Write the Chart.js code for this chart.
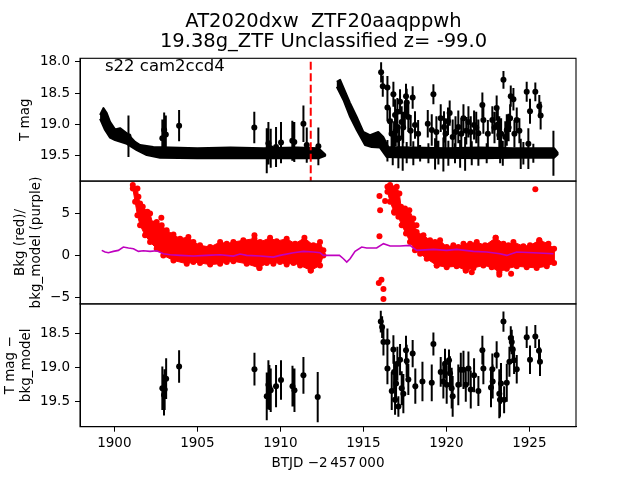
<!DOCTYPE html>
<html>
<head>
<meta charset="utf-8">
<script src="https://cdn.jsdelivr.net/npm/chart.js@4.4.0/dist/chart.umd.min.js"></script>
<style>
html,body{margin:0;padding:0;background:#fff;overflow:hidden}
#wrap{width:640px;height:480px}
</style>
</head>
<body>
<div id="wrap"><canvas id="c" width="640" height="480"></canvas></div>
<script>
// ---------------- texts ----------------
const titleLines = ['AT2020dxw  ZTF20aaqppwh', '19.38g_ZTF Unclassified z= -99.0'];
const sectorLabel = 's22 cam2ccd4';
const xTitle = 'BTJD \u22122\u2009457\u2009000';
const yTitleTop = ['T mag'];
const yTitleMid = ['Bkg (red)/', 'bkg_model (purple)'];
const yTitleBot = ['T mag \u2212', 'bkg_model'];

// ---------------- ticks ----------------
const xTicks = [1900, 1905, 1910, 1915, 1920, 1925];
const xTickLabels = ['1900', '1905', '1910', '1915', '1920', '1925'];
const magTicks = [18.0, 18.5, 19.0, 19.5];
const magTickLabels = ['18.0', '18.5', '19.0', '19.5'];
const bkgTicks = [5, 0, -5];
const bkgTickLabels = ['5', '0', '\u22125'];
const diffTicks = [18.5, 19.0, 19.5];
const diffTickLabels = ['18.5', '19.0', '19.5'];

// axis limits
const xRange = [1897.93, 1927.81];
const magRange = [17.946, 19.904];
const bkgRange = [-5.79, 8.87];
const diffRange = [18.07, 19.876];

// vertical marker (peak time)
const peakTime = 1911.83;
const peakSpan = [18.0, 19.9];

// ---------------- panel 1: T mag ----------------
// dense light-curve band (upper / lower edge), two orbits
const bandA_top = [[1899.14,18.85],[1899.34,18.74],[1899.54,18.82],[1899.74,18.96],[1900.04,19.08],[1900.34,19.06],[1900.75,19.14],[1901.25,19.28],[1901.55,19.33],[1902.35,19.36],[1903.36,19.37],[1905.0,19.38],[1907.0,19.37],[1909.0,19.38],[1911.0,19.37],[1912.3,19.38],[1912.7,19.48]];
const bandA_bottom = [[1899.14,18.91],[1899.44,19.09],[1899.74,19.21],[1900.04,19.25],[1900.75,19.31],[1901.35,19.41],[1901.95,19.49],[1902.75,19.53],[1905.0,19.54],[1908.0,19.54],[1911.0,19.54],[1912.3,19.54],[1912.7,19.50]];
const bandB_top = [[1913.4,18.32],[1913.6,18.29],[1914.2,18.66],[1914.6,18.88],[1915.0,19.12],[1915.4,19.17],[1915.9,19.12],[1916.2,19.20],[1916.5,19.36],[1918.0,19.37],[1920.0,19.38],[1922.0,19.37],[1924.0,19.38],[1926.5,19.38],[1926.7,19.45]];
const bandB_bottom = [[1913.4,18.40],[1913.8,18.61],[1914.2,18.88],[1914.6,19.09],[1915.1,19.33],[1915.5,19.36],[1916.0,19.37],[1916.4,19.52],[1918.0,19.53],[1920.0,19.53],[1922.0,19.54],[1924.0,19.53],[1926.5,19.53],[1926.7,19.48]];

// individual measurements with error bars: [BTJD, mag, err]
const magPts = [
 [1900.85,19.19,0.33],[1902.89,19.22,0.30],[1903.00,19.09,0.28],[1903.10,19.16,0.30],[1903.90,19.02,0.25],
 [1908.43,19.05,0.25],[1909.18,19.42,0.36],[1909.28,19.30,0.34],[1909.42,19.38,0.31],[1909.74,19.36,0.32],
 [1910.04,19.29,0.33],[1910.72,19.26,0.32],[1910.84,19.28,0.32],[1911.39,18.99,0.29],[1911.59,19.33,0.28],[1912.29,19.35,0.30],
 [1916.07,18.17,0.16],[1916.17,18.39,0.17],[1916.45,18.41,0.18],[1916.45,18.73,0.22],[1916.81,18.52,0.20],
 [1916.91,18.85,0.25],[1917.01,19.04,0.25],[1917.21,18.64,0.20],[1917.31,18.96,0.25],[1917.57,18.55,0.20],
 [1917.61,18.65,0.22],[1917.71,18.88,0.24],[1917.97,18.57,0.18],[1918.11,19.01,0.22],[1918.88,18.99,0.22],
 [1919.12,19.09,0.25],[1919.22,18.52,0.16],[1919.66,18.90,0.22],[1919.86,19.04,0.25],[1920.20,18.82,0.20],
 [1920.38,19.20,0.28],[1920.72,19.04,0.26],[1921.03,18.90,0.22],[1921.33,18.96,0.25],[1921.47,19.12,0.25],
 [1921.67,19.01,0.23],[1921.93,19.14,0.22],[1922.17,18.69,0.20],[1922.23,18.93,0.22],[1922.77,18.93,0.22],
 [1923.03,18.74,0.20],[1923.19,19.17,0.30],[1923.44,18.29,0.14],[1923.64,19.09,0.25],[1923.84,18.90,0.22],
 [1923.88,18.55,0.17],[1924.04,18.60,0.18],[1924.24,18.93,0.20],[1924.84,18.48,0.16],[1924.94,19.31,0.25],
 [1925.04,18.79,0.20],[1925.36,18.48,0.15],[1925.60,18.71,0.18],[1925.68,18.86,0.22],
 [1916.60,18.95,0.22],[1916.70,19.15,0.24],[1916.85,19.20,0.25],[1916.95,19.10,0.25],[1917.05,18.80,0.22],
 [1917.15,19.22,0.22],[1917.40,19.05,0.25],[1917.50,18.85,0.20],[1917.85,19.10,0.25],[1918.30,19.15,0.22],
 [1919.40,19.12,0.25],[1919.95,19.15,0.25],[1920.10,18.95,0.22],[1920.55,19.12,0.25],[1920.90,19.15,0.25],
 [1921.20,19.10,0.22],[1921.80,19.05,0.25],[1922.50,19.15,0.22],[1922.90,19.05,0.25],[1923.10,19.00,0.25],
 [1923.30,19.15,0.25],[1923.55,19.20,0.25],[1923.75,19.05,0.22],[1924.10,19.15,0.22],[1924.40,19.10,0.20],
 [1916.45,19.42,0.17],[1916.77,19.44,0.21],[1917.11,19.45,0.25],[1917.37,19.47,0.27],[1917.61,19.45,0.17],
 [1918.01,19.46,0.19],[1918.42,19.46,0.13],[1918.92,19.46,0.16],[1919.32,19.47,0.25],[1919.52,19.45,0.19],
 [1919.82,19.48,0.27],[1920.12,19.46,0.20],[1920.52,19.46,0.16],[1920.83,19.47,0.22],[1921.13,19.47,0.27],
 [1921.53,19.46,0.19],[1921.93,19.46,0.20],[1922.43,19.46,0.16],[1923.24,19.46,0.16],[1923.40,19.46,0.20],
 [1924.48,19.47,0.24],[1924.64,19.46,0.18],[1924.94,19.47,0.24],[1925.24,19.46,0.15],[1926.45,19.46,0.36]
];

// ---------------- panel 2: background ----------------
const bkgA_top = [[1901.11,8.4],[1901.39,8.0],[1901.45,7.0],[1901.55,6.2],[1901.71,5.8],[1901.99,5.2],[1902.15,5.0],[1902.31,3.8],[1902.55,4.0],[1902.85,3.6],[1903.15,3.0],[1903.56,2.5],[1903.96,2.0],[1904.46,2.2],[1904.76,1.6],[1905.16,1.2],[1905.77,1.0],[1906.37,1.6],[1906.77,1.4],[1907.17,1.6],[1907.77,1.8],[1908.44,2.0],[1908.78,1.6],[1909.38,2.1],[1909.78,1.7],[1910.38,2.0],[1910.89,1.4],[1911.45,2.1],[1911.99,1.2],[1912.39,1.6],[1912.59,0.6]];
const bkgA_bottom = [[1901.11,8.0],[1901.25,6.4],[1901.39,4.8],[1901.55,3.6],[1901.85,2.4],[1902.15,1.6],[1902.55,0.8],[1902.95,0.0],[1903.56,-0.6],[1904.36,-1.0],[1904.76,-0.8],[1905.16,-0.9],[1905.77,-1.1],[1906.37,-1.0],[1906.77,-0.8],[1907.17,-0.7],[1907.97,-1.0],[1908.74,-1.5],[1909.18,-0.9],[1909.58,-1.0],[1909.98,-0.8],[1910.38,-1.1],[1910.79,-0.9],[1911.19,-1.2],[1911.83,-1.8],[1912.39,-1.2],[1912.59,0.0]];
const bkgB_top = [[1916.45,8.2],[1916.61,8.4],[1917.01,8.2],[1917.17,7.4],[1917.27,5.8],[1917.51,5.6],[1917.77,5.4],[1918.01,4.4],[1918.21,2.8],[1918.62,2.4],[1919.02,1.8],[1919.32,1.6],[1919.62,1.8],[1920.02,1.0],[1920.42,1.2],[1920.72,1.0],[1921.03,1.4],[1921.43,1.4],[1921.83,1.6],[1922.33,1.2],[1922.97,2.1],[1923.44,1.4],[1923.74,1.2],[1924.04,1.6],[1924.64,1.1],[1925.04,1.2],[1925.6,1.8],[1926.15,1.4],[1926.49,0.8]];
const bkgB_bottom = [[1916.45,7.6],[1916.61,6.4],[1916.85,5.2],[1917.11,4.6],[1917.31,3.6],[1917.57,2.6],[1917.81,1.6],[1918.11,0.6],[1918.42,0.2],[1918.82,-0.4],[1919.42,-1.2],[1920.02,-1.4],[1920.62,-1.3],[1921.17,-1.8],[1921.63,-1.5],[1922.23,-1.2],[1922.73,-1.4],[1923.19,-2.0],[1923.64,-1.6],[1924.24,-1.3],[1924.84,-1.4],[1925.44,-1.5],[1926.05,-1.3],[1926.49,-0.9]];
const bkgOutliers = [[1902.83,4.5],[1908.44,2.4],[1911.83,-1.8],[1908.74,-1.5],[1915.97,7.1],[1916.01,5.4],[1915.97,2.3],[1915.93,-3.3],[1916.09,-2.9],[1916.21,-4.0],[1916.21,-5.2],[1916.31,6.5],[1916.87,5.1],[1918.2,3.6],[1925.36,7.9],[1922.97,2.1],[1925.6,1.8],[1923.19,-2.3],[1923.9,-2.2],[1921.17,-1.8],[1921.53,-2.0],[1919.42,-1.2]];
const bkgModel = [[1899.24,0.6],[1899.44,0.4],[1899.64,0.32],[1899.94,0.48],[1900.24,0.6],[1900.54,1.0],[1900.85,0.88],[1901.15,0.8],[1901.45,0.48],[1901.75,0.56],[1902.15,0.48],[1902.55,0.56],[1902.95,0.2],[1903.36,0.08],[1903.96,0.0],[1904.76,-0.08],[1905.56,0.0],[1906.37,0.08],[1907.17,-0.08],[1907.57,0.16],[1907.97,0.0],[1908.78,-0.08],[1909.58,-0.2],[1909.98,0.0],[1910.79,0.32],[1911.39,0.48],[1911.99,0.4],[1912.39,0.32],[1912.59,0.0],[1913.56,0.0],[1913.8,-0.4],[1914.0,-0.8],[1914.2,-0.4],[1914.5,0.48],[1914.9,1.0],[1915.2,0.88],[1915.8,0.88],[1916.21,1.4],[1916.61,1.12],[1917.21,1.12],[1917.81,1.2],[1918.21,0.6],[1919.22,0.72],[1920.02,0.6],[1920.62,0.72],[1921.63,0.48],[1922.43,0.4],[1923.23,0.2],[1923.64,0.0],[1924.24,0.4],[1925.24,0.32],[1926.45,0.2]];

// ---------------- panel 3: T mag - bkg_model ----------------
const diffPts = [
 [1902.89,19.31,0.32],[1902.99,19.41,0.30],[1903.03,19.33,0.30],[1903.12,19.17,0.30],[1903.90,18.99,0.24],
 [1908.44,19.03,0.24],[1909.18,19.43,0.35],[1909.28,19.26,0.36],[1909.34,19.30,0.33],[1909.42,19.34,0.32],
 [1909.74,19.28,0.31],[1910.04,19.19,0.29],[1910.73,19.28,0.30],[1910.85,19.34,0.32],[1911.39,19.12,0.27],[1912.25,19.44,0.37],
 [1916.05,18.33,0.16],[1916.13,18.41,0.16],[1916.21,18.63,0.20],[1916.45,18.63,0.20],[1916.45,19.02,0.23],
 [1916.71,19.35,0.28],[1916.81,18.74,0.21],[1916.85,19.07,0.25],[1916.91,19.48,0.22],[1916.97,19.24,0.28],
 [1917.05,18.95,0.25],[1917.11,19.58,0.15],[1917.21,18.89,0.23],[1917.31,19.31,0.25],[1917.41,19.39,0.29],
 [1917.57,18.75,0.21],[1917.61,18.91,0.24],[1917.71,19.18,0.23],[1917.97,18.80,0.20],[1918.13,19.28,0.26],
 [1918.56,19.21,0.29],[1919.12,19.23,0.27],[1919.22,18.66,0.17],[1919.66,19.07,0.22],[1919.82,19.21,0.25],
 [1919.92,18.95,0.22],[1920.02,19.26,0.28],[1920.16,18.90,0.16],[1920.22,19.09,0.25],[1920.32,19.31,0.30],
 [1920.38,19.43,0.30],[1920.72,19.26,0.30],[1920.87,19.04,0.25],[1921.03,19.04,0.28],[1921.17,19.26,0.25],
 [1921.33,19.02,0.25],[1921.47,19.33,0.28],[1921.67,19.12,0.25],[1921.93,19.35,0.22],[1922.17,18.75,0.21],
 [1922.23,19.02,0.23],[1922.69,19.30,0.29],[1922.77,19.03,0.23],[1922.79,19.21,0.25],[1923.03,18.82,0.20],
 [1923.19,19.39,0.36],[1923.23,19.48,0.25],[1923.29,19.24,0.30],[1923.44,18.33,0.15],[1923.48,19.48,0.20],
 [1923.64,19.23,0.28],[1923.80,18.92,0.22],[1923.88,18.57,0.17],[1923.94,18.63,0.18],[1924.00,18.74,0.20],
 [1924.08,18.90,0.20],[1924.24,19.03,0.21],[1924.84,18.56,0.16],[1925.04,18.89,0.21],[1925.36,18.55,0.17],
 [1925.58,18.76,0.17],[1925.64,18.92,0.21]
];

// ---------------- builders ----------------
const toXY = arr => arr.map(([x, y]) => ({x, y}));
const shape = (top, bottom) => toXY(top.concat(bottom.slice().reverse()));
const errBars = pts => {
  const d = [];
  pts.forEach(([t, m, e]) => { d.push({x: t, y: m - e}, {x: t, y: m + e}, {x: t, y: null}); });
  return d;
};

const FONT = '"DejaVu Sans", sans-serif';
Chart.defaults.font.family = FONT;
Chart.defaults.color = '#000';

const tickSetter = arr => scale => { scale.ticks = arr.map(v => ({value: v})); };

const yCommon = (range, ticks, labels, reverse, titleText, titlePad) => ({
  type: 'linear',
  position: 'left',
  stack: 'panels',
  stackWeight: 1,
  reverse: reverse,
  min: range[0],
  max: range[1],
  afterFit: s => { s.width = 73; },
  afterBuildTicks: tickSetter(ticks),
  ticks: {
    autoSkip: false, padding: 5, color: '#000',
    font: {size: 13.5, family: FONT},
    callback: (v, i) => labels[i]
  },
  grid: {display: true, drawOnChartArea: false, drawTicks: true, tickLength: 5, color: '#000', lineWidth: 1},
  border: {display: true, color: '#000', width: 1},
  title: {display: true, text: titleText, color: '#000', font: {size: 13.5, family: FONT, lineHeight: '15.5px'}, padding: {top: titlePad, bottom: 0}}
});

const panelPlugin = {
  id: 'panelBoxes',
  afterDraw(chart) {
    const {ctx, chartArea} = chart;
    ctx.save();
    ctx.strokeStyle = '#000';
    ctx.lineWidth = 1.1;
    ['yTop', 'yMid', 'yBot'].forEach(id => {
      const s = chart.scales[id];
      ctx.strokeRect(chartArea.left, s.top, chartArea.right - chartArea.left, s.bottom - s.top);
    });
    const st = chart.scales.yTop;
    ctx.fillStyle = '#000';
    ctx.font = '16.5px ' + FONT;
    ctx.textBaseline = 'alphabetic';
    ctx.textAlign = 'left';
    ctx.fillText(sectorLabel, chartArea.left + 25, st.top + 12.4);
    ctx.restore();
  }
};

const ds = [];
// panel 1
ds.push({label: 'peak', data: toXY([[peakTime, peakSpan[0]], [peakTime, peakSpan[1]]]), yAxisID: 'yTop', xAxisID: 'x',
  borderColor: '#ff0000', borderWidth: 2, borderDash: [8, 3.5], pointRadius: 0, showLine: true, fill: false, order: 0});
ds.push({label: 'mag pts', data: toXY(magPts), yAxisID: 'yTop', xAxisID: 'x', showLine: false,
  pointRadius: 3, pointBackgroundColor: '#000', pointBorderColor: '#000', pointBorderWidth: 0, order: 2});
ds.push({label: 'mag err', data: errBars(magPts), yAxisID: 'yTop', xAxisID: 'x', showLine: true, spanGaps: false,
  borderColor: '#000', borderWidth: 2, pointRadius: 0, fill: false, order: 3});
ds.push({label: 'band A', data: shape(bandA_top, bandA_bottom), yAxisID: 'yTop', xAxisID: 'x', showLine: true,
  borderColor: '#000', backgroundColor: '#000', borderWidth: 2, borderJoinStyle: 'round', pointRadius: 0, fill: 'shape', order: 5});
ds.push({label: 'band B', data: shape(bandB_top, bandB_bottom), yAxisID: 'yTop', xAxisID: 'x', showLine: true,
  borderColor: '#000', backgroundColor: '#000', borderWidth: 2, borderJoinStyle: 'round', pointRadius: 0, fill: 'shape', order: 5});
// panel 2
ds.push({label: 'bkg model', data: toXY(bkgModel), yAxisID: 'yMid', xAxisID: 'x', showLine: true,
  borderColor: '#bf00bf', borderWidth: 1.6, pointRadius: 0, fill: false, order: 1});
ds.push({label: 'bkg out', data: toXY(bkgOutliers), yAxisID: 'yMid', xAxisID: 'x', showLine: false,
  pointRadius: 3, pointBackgroundColor: '#ff0000', pointBorderWidth: 0, order: 6});
ds.push({label: 'bkg A', data: shape(bkgA_top, bkgA_bottom), yAxisID: 'yMid', xAxisID: 'x', showLine: true,
  borderColor: '#ff0000', backgroundColor: '#ff0000', borderWidth: 1, pointRadius: 3, pointBackgroundColor: '#ff0000', pointBorderWidth: 0, fill: 'shape', order: 7});
ds.push({label: 'bkg B', data: shape(bkgB_top, bkgB_bottom), yAxisID: 'yMid', xAxisID: 'x', showLine: true,
  borderColor: '#ff0000', backgroundColor: '#ff0000', borderWidth: 1, pointRadius: 3, pointBackgroundColor: '#ff0000', pointBorderWidth: 0, fill: 'shape', order: 7});
// panel 3
ds.push({label: 'diff pts', data: toXY(diffPts), yAxisID: 'yBot', xAxisID: 'x', showLine: false,
  pointRadius: 3, pointBackgroundColor: '#000', pointBorderColor: '#000', pointBorderWidth: 0, order: 2});
ds.push({label: 'diff err', data: errBars(diffPts), yAxisID: 'yBot', xAxisID: 'x', showLine: true, spanGaps: false,
  borderColor: '#000', borderWidth: 2, pointRadius: 0, fill: false, order: 3});

new Chart(document.getElementById('c'), {
  type: 'line',
  data: {datasets: ds},
  options: {
    responsive: false,
    animation: false,
    devicePixelRatio: 1,
    events: [],
    elements: {line: {tension: 0}},
    layout: {padding: {left: 7, right: 0, top: 0, bottom: 0}},
    plugins: {
      legend: {display: false},
      tooltip: {enabled: false},
      title: {display: true, text: titleLines, color: '#000', fullSize: true,
        font: {size: 19.5, weight: 'normal', family: FONT, lineHeight: '19.7px'},
        padding: {top: 12.15, bottom: 6.75}}
    },
    scales: {
      x: {
        type: 'linear', position: 'bottom', min: xRange[0], max: xRange[1],
        afterFit: s => { s.height = 53.3; },
        afterBuildTicks: tickSetter(xTicks),
        ticks: {autoSkip: false, maxRotation: 0, padding: 4, color: '#000', font: {size: 13.5, family: FONT},
          callback: (v, i) => xTickLabels[i]},
        grid: {display: true, drawOnChartArea: false, drawTicks: true, tickLength: 5, color: '#000', lineWidth: 1},
        border: {display: true, color: '#000', width: 1},
        title: {display: true, text: xTitle, color: '#000', font: {size: 13.5, family: FONT, lineHeight: '15.5px'}, padding: {top: 0, bottom: 9.25}}
      },
      yBot: yCommon(diffRange, diffTicks, diffTickLabels, true, yTitleBot, -4.25),
      yMid: yCommon(bkgRange, bkgTicks, bkgTickLabels, false, yTitleMid, 5.75),
      yTop: yCommon(magRange, magTicks, magTickLabels, true, yTitleTop, 10.75),
      yPad: {
        type: 'linear', position: 'right', display: true,
        afterFit: s => { s.width = 64; },
        ticks: {display: false}, grid: {display: false}, border: {display: false}, title: {display: false}
      }
    }
  },
  plugins: [panelPlugin]
});
</script>
</body>
</html>
